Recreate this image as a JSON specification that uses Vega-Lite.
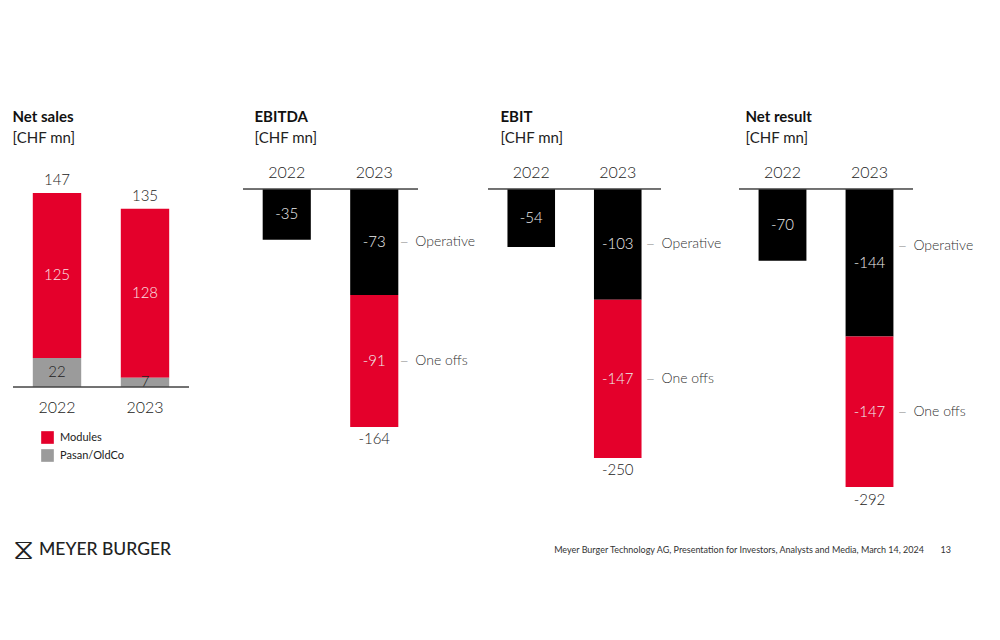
{
  "$schema": "https://vega.github.io/schema/vega-lite/v6.json",
  "background": "white",
  "padding": {"left": 12, "top": 110, "right": 10, "bottom": 10},
  "config": {
    "view": {"stroke": null},
    "font": "Lato",
    "text": {"font": "Lato", "fontWeight": 300},
    "title": {"font": "Lato", "fontSize": 15, "fontWeight": "bold", "color": "#111111", "subtitleFont": "Lato", "subtitleFontSize": 15, "subtitleFontWeight": 400, "subtitleColor": "#222222", "subtitlePadding": 6, "anchor": "start", "offset": 14}
  },
  "datasets": {
    "segments": [
      {"panel": "Net sales", "year": "2022", "segment": "Modules", "value": 125},
      {"panel": "Net sales", "year": "2022", "segment": "Pasan/OldCo", "value": 22},
      {"panel": "Net sales", "year": "2023", "segment": "Modules", "value": 128},
      {"panel": "Net sales", "year": "2023", "segment": "Pasan/OldCo", "value": 7},
      {"panel": "EBITDA", "year": "2022", "segment": "Operative", "value": -35},
      {"panel": "EBITDA", "year": "2023", "segment": "Operative", "value": -73},
      {"panel": "EBITDA", "year": "2023", "segment": "One offs", "value": -91},
      {"panel": "EBIT", "year": "2022", "segment": "Operative", "value": -54},
      {"panel": "EBIT", "year": "2023", "segment": "Operative", "value": -103},
      {"panel": "EBIT", "year": "2023", "segment": "One offs", "value": -147},
      {"panel": "Net result", "year": "2022", "segment": "Operative", "value": -70},
      {"panel": "Net result", "year": "2023", "segment": "Operative", "value": -144},
      {"panel": "Net result", "year": "2023", "segment": "One offs", "value": -147}
    ],
    "totals": [
      {"panel": "Net sales", "year": "2022", "total": 147},
      {"panel": "Net sales", "year": "2023", "total": 135},
      {"panel": "EBITDA", "year": "2022", "total": -35},
      {"panel": "EBITDA", "year": "2023", "total": -164},
      {"panel": "EBIT", "year": "2022", "total": -54},
      {"panel": "EBIT", "year": "2023", "total": -250},
      {"panel": "Net result", "year": "2022", "total": -70},
      {"panel": "Net result", "year": "2023", "total": -292}
    ],
    "footer": [
      {"side": "left", "kind": "brand", "text": "MEYER BURGER"},
      {"side": "right", "kind": "source", "text": "Meyer Burger Technology AG, Presentation for Investors, Analysts and Media, March 14, 2024"},
      {"side": "right", "kind": "page", "text": "13"}
    ]
  },
  "vconcat": [
    {
      "hconcat": [
        {
          "width": 176,
          "height": 260,
          "title": {"text": "Net sales", "subtitle": "[CHF mn]"},
          "layer": [
            {
              "data": {"name": "segments"},
              "transform": [{"filter": "datum.panel === 'Net sales'"}],
              "mark": {"type": "bar"},
              "encoding": {
                "x": {"field": "year", "type": "nominal", "scale": {"paddingInner": 0.45, "paddingOuter": 0.225}, "axis": null},
                "y": {"field": "value", "type": "quantitative", "stack": "zero", "scale": {"domain": [-25, 172], "nice": false, "zero": false}, "axis": null},
                "color": {"field": "segment", "type": "nominal", "scale": {"domain": ["Modules", "Pasan/OldCo"], "range": ["#E4002B", "#9B9B9B"]}, "legend": {"orient": "none", "legendX": 28, "legendY": 271, "title": null, "symbolType": "square", "symbolSize": 160, "symbolStrokeWidth": 0, "labelFont": "Lato", "labelFontSize": 11, "labelFontWeight": 400, "labelColor": "#222222", "rowPadding": 5, "labelOffset": 6}},
                "order": {"field": "segment", "sort": "descending"}
              }
            },
            {
              "data": {"name": "segments"},
              "transform": [{"filter": "datum.panel === 'Net sales'"}],
              "mark": {"type": "text", "fontSize": 15, "baseline": "middle"},
              "encoding": {
                "x": {"field": "year", "type": "nominal", "axis": null},
                "y": {"field": "value", "type": "quantitative", "stack": "zero", "bandPosition": 0.5, "axis": null},
                "detail": {"field": "segment"},
                "order": {"field": "segment", "sort": "descending"},
                "text": {"field": "value", "type": "nominal"},
                "color": {"condition": {"test": "datum.segment === 'Pasan/OldCo'", "value": "#222222"}, "value": "#fbe4e8"}
              }
            },
            {
              "data": {"name": "totals"},
              "transform": [{"filter": "datum.panel === 'Net sales'"}],
              "mark": {"type": "rule", "color": "#444444", "strokeWidth": 1},
              "encoding": {"y": {"datum": 0, "type": "quantitative", "axis": null}}
            },
            {
              "data": {"name": "totals"},
              "transform": [{"filter": "datum.panel === 'Net sales'"}],
              "mark": {"type": "text", "fontSize": 16, "baseline": "middle", "dy": 21, "color": "#222222"},
              "encoding": {
                "x": {"field": "year", "type": "nominal", "axis": null},
                "y": {"datum": 0, "type": "quantitative", "axis": null},
                "text": {"field": "year", "type": "nominal"}
              }
            },
            {
              "data": {"name": "totals"},
              "transform": [{"filter": "datum.panel === 'Net sales'"}],
              "mark": {"type": "text", "fontSize": 15, "baseline": "middle", "dy": -13, "color": "#222222"},
              "encoding": {
                "x": {"field": "year", "type": "nominal", "axis": null},
                "y": {"field": "total", "type": "quantitative", "axis": null},
                "text": {"field": "total", "type": "nominal"}
              }
            }
          ]
        },
        {
          "width": 54,
          "height": 10,
          "data": {"values": [{}]},
          "mark": {"type": "text", "text": ""},
          "encoding": {}
        },
        {
          "width": 175,
          "height": 300,
          "title": {"text": "EBITDA", "subtitle": "[CHF mn]", "dx": 12},
          "layer": [
            {
              "data": {"name": "segments"},
              "transform": [{"filter": "datum.panel === 'EBITDA'"}],
              "mark": {"type": "bar"},
              "encoding": {
                "x": {"field": "year", "type": "nominal", "scale": {"paddingInner": 0.45, "paddingOuter": 0.225}, "axis": null},
                "y": {"field": "value", "type": "quantitative", "stack": "zero", "scale": {"domain": [-186.75, 20], "nice": false, "zero": false}, "axis": null},
                "color": {"field": "segment", "type": "nominal", "scale": {"domain": ["Operative", "One offs"], "range": ["#000000", "#E4002B"]}, "legend": null},
                "order": {"field": "segment", "sort": "descending"}
              }
            },
            {
              "data": {"name": "segments"},
              "transform": [{"filter": "datum.panel === 'EBITDA'"}],
              "mark": {"type": "text", "fontSize": 15, "baseline": "middle", "color": "#eeeeee"},
              "encoding": {
                "x": {"field": "year", "type": "nominal", "axis": null},
                "y": {"field": "value", "type": "quantitative", "stack": "zero", "bandPosition": 0.5, "axis": null},
                "detail": {"field": "segment"},
                "order": {"field": "segment", "sort": "descending"},
                "text": {"field": "value", "type": "nominal"}
              }
            },
            {
              "data": {"name": "segments"},
              "transform": [{"filter": "datum.panel === 'EBITDA' && datum.year === '2023'"}],
              "mark": {"type": "text", "text": "—", "align": "left", "baseline": "middle", "dx": 2, "fontSize": 10, "color": "#333333"},
              "encoding": {
                "x": {"field": "year", "type": "nominal", "bandPosition": 1, "axis": null},
                "y": {"field": "value", "type": "quantitative", "stack": "zero", "bandPosition": 0.5, "axis": null},
                "detail": {"field": "segment"},
                "order": {"field": "segment", "sort": "descending"}
              }
            },
            {
              "data": {"name": "segments"},
              "transform": [{"filter": "datum.panel === 'EBITDA' && datum.year === '2023'"}],
              "mark": {"type": "text", "align": "left", "baseline": "middle", "dx": 17, "fontSize": 14, "color": "#333333"},
              "encoding": {
                "x": {"field": "year", "type": "nominal", "bandPosition": 1, "axis": null},
                "y": {"field": "value", "type": "quantitative", "stack": "zero", "bandPosition": 0.5, "axis": null},
                "detail": {"field": "segment"},
                "order": {"field": "segment", "sort": "descending"},
                "text": {"field": "segment", "type": "nominal"}
              }
            },
            {
              "data": {"name": "totals"},
              "transform": [{"filter": "datum.panel === 'EBITDA'"}],
              "mark": {"type": "rule", "color": "#444444", "strokeWidth": 1},
              "encoding": {"y": {"datum": 0, "type": "quantitative", "axis": null}}
            },
            {
              "data": {"name": "totals"},
              "transform": [{"filter": "datum.panel === 'EBITDA'"}],
              "mark": {"type": "text", "fontSize": 16, "baseline": "middle", "dy": -16, "color": "#222222"},
              "encoding": {
                "x": {"field": "year", "type": "nominal", "axis": null},
                "y": {"datum": 0, "type": "quantitative", "axis": null},
                "text": {"field": "year", "type": "nominal"}
              }
            },
            {
              "data": {"name": "totals"},
              "transform": [{"filter": "datum.panel === 'EBITDA' && datum.year === '2023'"}],
              "mark": {"type": "text", "fontSize": 15, "baseline": "middle", "dy": 12, "color": "#222222"},
              "encoding": {
                "x": {"field": "year", "type": "nominal", "axis": null},
                "y": {"field": "total", "type": "quantitative", "axis": null},
                "text": {"field": "total", "type": "nominal"}
              }
            }
          ]
        },
        {
          "width": 70,
          "height": 10,
          "data": {"values": [{}]},
          "mark": {"type": "text", "text": ""},
          "encoding": {}
        },
        {
          "width": 173,
          "height": 320,
          "title": {"text": "EBIT", "subtitle": "[CHF mn]", "dx": 13},
          "layer": [
            {
              "data": {"name": "segments"},
              "transform": [{"filter": "datum.panel === 'EBIT'"}],
              "mark": {"type": "bar"},
              "encoding": {
                "x": {"field": "year", "type": "nominal", "scale": {"paddingInner": 0.45, "paddingOuter": 0.225}, "axis": null},
                "y": {"field": "value", "type": "quantitative", "stack": "zero", "scale": {"domain": [-270.45, 26.95], "nice": false, "zero": false}, "axis": null},
                "color": {"field": "segment", "type": "nominal", "scale": {"domain": ["Operative", "One offs"], "range": ["#000000", "#E4002B"]}, "legend": null},
                "order": {"field": "segment", "sort": "descending"}
              }
            },
            {
              "data": {"name": "segments"},
              "transform": [{"filter": "datum.panel === 'EBIT'"}],
              "mark": {"type": "text", "fontSize": 15, "baseline": "middle", "color": "#eeeeee"},
              "encoding": {
                "x": {"field": "year", "type": "nominal", "axis": null},
                "y": {"field": "value", "type": "quantitative", "stack": "zero", "bandPosition": 0.5, "axis": null},
                "detail": {"field": "segment"},
                "order": {"field": "segment", "sort": "descending"},
                "text": {"field": "value", "type": "nominal"}
              }
            },
            {
              "data": {"name": "segments"},
              "transform": [{"filter": "datum.panel === 'EBIT' && datum.year === '2023'"}],
              "mark": {"type": "text", "text": "—", "align": "left", "baseline": "middle", "dx": 5, "fontSize": 10, "color": "#333333"},
              "encoding": {
                "x": {"field": "year", "type": "nominal", "bandPosition": 1, "axis": null},
                "y": {"field": "value", "type": "quantitative", "stack": "zero", "bandPosition": 0.5, "axis": null},
                "detail": {"field": "segment"},
                "order": {"field": "segment", "sort": "descending"}
              }
            },
            {
              "data": {"name": "segments"},
              "transform": [{"filter": "datum.panel === 'EBIT' && datum.year === '2023'"}],
              "mark": {"type": "text", "align": "left", "baseline": "middle", "dx": 20, "fontSize": 14, "color": "#333333"},
              "encoding": {
                "x": {"field": "year", "type": "nominal", "bandPosition": 1, "axis": null},
                "y": {"field": "value", "type": "quantitative", "stack": "zero", "bandPosition": 0.5, "axis": null},
                "detail": {"field": "segment"},
                "order": {"field": "segment", "sort": "descending"},
                "text": {"field": "segment", "type": "nominal"}
              }
            },
            {
              "data": {"name": "totals"},
              "transform": [{"filter": "datum.panel === 'EBIT'"}],
              "mark": {"type": "rule", "color": "#444444", "strokeWidth": 1},
              "encoding": {"y": {"datum": 0, "type": "quantitative", "axis": null}}
            },
            {
              "data": {"name": "totals"},
              "transform": [{"filter": "datum.panel === 'EBIT'"}],
              "mark": {"type": "text", "fontSize": 16, "baseline": "middle", "dy": -16, "color": "#222222"},
              "encoding": {
                "x": {"field": "year", "type": "nominal", "axis": null},
                "y": {"datum": 0, "type": "quantitative", "axis": null},
                "text": {"field": "year", "type": "nominal"}
              }
            },
            {
              "data": {"name": "totals"},
              "transform": [{"filter": "datum.panel === 'EBIT' && datum.year === '2023'"}],
              "mark": {"type": "text", "fontSize": 15, "baseline": "middle", "dy": 12, "color": "#222222"},
              "encoding": {
                "x": {"field": "year", "type": "nominal", "axis": null},
                "y": {"field": "total", "type": "quantitative", "axis": null},
                "text": {"field": "total", "type": "nominal"}
              }
            }
          ]
        },
        {
          "width": 78,
          "height": 10,
          "data": {"values": [{}]},
          "mark": {"type": "text", "text": ""},
          "encoding": {}
        },
        {
          "width": 174,
          "height": 340,
          "title": {"text": "Net result", "subtitle": "[CHF mn]", "dx": 7},
          "layer": [
            {
              "data": {"name": "segments"},
              "transform": [{"filter": "datum.panel === 'Net result'"}],
              "mark": {"type": "bar"},
              "encoding": {
                "x": {"field": "year", "type": "nominal", "scale": {"paddingInner": 0.45, "paddingOuter": 0.225}, "axis": null},
                "y": {"field": "value", "type": "quantitative", "stack": "zero", "scale": {"domain": [-303.71, 28.32], "nice": false, "zero": false}, "axis": null},
                "color": {"field": "segment", "type": "nominal", "scale": {"domain": ["Operative", "One offs"], "range": ["#000000", "#E4002B"]}, "legend": null},
                "order": {"field": "segment", "sort": "descending"}
              }
            },
            {
              "data": {"name": "segments"},
              "transform": [{"filter": "datum.panel === 'Net result'"}],
              "mark": {"type": "text", "fontSize": 15, "baseline": "middle", "color": "#eeeeee"},
              "encoding": {
                "x": {"field": "year", "type": "nominal", "axis": null},
                "y": {"field": "value", "type": "quantitative", "stack": "zero", "bandPosition": 0.5, "axis": null},
                "detail": {"field": "segment"},
                "order": {"field": "segment", "sort": "descending"},
                "text": {"field": "value", "type": "nominal"}
              }
            },
            {
              "data": {"name": "segments"},
              "transform": [{"filter": "datum.panel === 'Net result' && datum.year === '2023' && datum.segment === 'Operative'"}],
              "mark": {"type": "text", "text": "—", "align": "left", "baseline": "middle", "dx": 5, "dy": -17, "fontSize": 10, "color": "#333333"},
              "encoding": {
                "x": {"field": "year", "type": "nominal", "bandPosition": 1, "axis": null},
                "y": {"field": "value", "type": "quantitative", "stack": "zero", "bandPosition": 0.5, "axis": null},
                "detail": {"field": "segment"},
                "order": {"field": "segment", "sort": "descending"}
              }
            },
            {
              "data": {"name": "segments"},
              "transform": [{"filter": "datum.panel === 'Net result' && datum.year === '2023' && datum.segment === 'Operative'"}],
              "mark": {"type": "text", "align": "left", "baseline": "middle", "dx": 20, "dy": -17, "fontSize": 14, "color": "#333333"},
              "encoding": {
                "x": {"field": "year", "type": "nominal", "bandPosition": 1, "axis": null},
                "y": {"field": "value", "type": "quantitative", "stack": "zero", "bandPosition": 0.5, "axis": null},
                "detail": {"field": "segment"},
                "order": {"field": "segment", "sort": "descending"},
                "text": {"field": "segment", "type": "nominal"}
              }
            },
            {
              "data": {"name": "segments"},
              "transform": [{"filter": "datum.panel === 'Net result' && datum.year === '2023'"}],
              "mark": {"type": "text", "text": "—", "align": "left", "baseline": "middle", "dx": 5, "fontSize": 10, "color": "#333333"},
              "encoding": {
                "x": {"field": "year", "type": "nominal", "bandPosition": 1, "axis": null},
                "y": {"field": "value", "type": "quantitative", "stack": "zero", "bandPosition": 0.5, "axis": null},
                "detail": {"field": "segment"},
                "order": {"field": "segment", "sort": "descending"},
                "opacity": {"condition": {"test": "datum.segment === 'Operative'", "value": 0}, "value": 1}
              }
            },
            {
              "data": {"name": "segments"},
              "transform": [{"filter": "datum.panel === 'Net result' && datum.year === '2023'"}],
              "mark": {"type": "text", "align": "left", "baseline": "middle", "dx": 20, "fontSize": 14, "color": "#333333"},
              "encoding": {
                "x": {"field": "year", "type": "nominal", "bandPosition": 1, "axis": null},
                "y": {"field": "value", "type": "quantitative", "stack": "zero", "bandPosition": 0.5, "axis": null},
                "detail": {"field": "segment"},
                "order": {"field": "segment", "sort": "descending"},
                "text": {"condition": {"test": "datum.segment === 'Operative'", "value": ""}, "field": "segment", "type": "nominal"}
              }
            },
            {
              "data": {"name": "totals"},
              "transform": [{"filter": "datum.panel === 'Net result'"}],
              "mark": {"type": "rule", "color": "#444444", "strokeWidth": 1},
              "encoding": {"y": {"datum": 0, "type": "quantitative", "axis": null}}
            },
            {
              "data": {"name": "totals"},
              "transform": [{"filter": "datum.panel === 'Net result'"}],
              "mark": {"type": "text", "fontSize": 16, "baseline": "middle", "dy": -16, "color": "#222222"},
              "encoding": {
                "x": {"field": "year", "type": "nominal", "axis": null},
                "y": {"datum": 0, "type": "quantitative", "axis": null},
                "text": {"field": "year", "type": "nominal"}
              }
            },
            {
              "data": {"name": "totals"},
              "transform": [{"filter": "datum.panel === 'Net result' && datum.year === '2023'"}],
              "mark": {"type": "text", "fontSize": 15, "baseline": "middle", "dy": 12, "color": "#222222"},
              "encoding": {
                "x": {"field": "year", "type": "nominal", "axis": null},
                "y": {"field": "total", "type": "quantitative", "axis": null},
                "text": {"field": "total", "type": "nominal"}
              }
            }
          ]
        }
      ],
      "spacing": 0,
      "bounds": "flush",
      "resolve": {"scale": {"x": "independent", "y": "independent", "color": "independent"}, "legend": {"color": "independent"}}
    },
    {
      "width": 938,
      "height": 20,
      "data": {"name": "footer"},
      "layer": [
        {
          "transform": [{"filter": "datum.kind === 'brand'"}],
          "mark": {"type": "text", "text": "⧖", "align": "left", "baseline": "middle", "fontSize": 30, "fontWeight": 400, "font": "DejaVu Sans", "color": "#222222"},
          "encoding": {
            "x": {"field": "side", "type": "nominal", "bandPosition": 0, "scale": {"type": "band", "domain": ["left", "right"], "paddingInner": 0, "paddingOuter": 0}, "axis": null}
          }
        },
        {
          "transform": [{"filter": "datum.kind === 'brand'"}],
          "mark": {"type": "text", "align": "left", "baseline": "middle", "dx": 26, "fontSize": 17.5, "fontWeight": 500, "color": "#222222"},
          "encoding": {
            "x": {"field": "side", "type": "nominal", "bandPosition": 0, "axis": null},
            "text": {"field": "text", "type": "nominal"}
          }
        },
        {
          "transform": [{"filter": "datum.kind === 'source'"}],
          "mark": {"type": "text", "align": "right", "baseline": "middle", "dx": -27, "fontSize": 9, "fontWeight": 400, "color": "#333333"},
          "encoding": {
            "x": {"field": "side", "type": "nominal", "bandPosition": 1, "axis": null},
            "text": {"field": "text", "type": "nominal"}
          }
        },
        {
          "transform": [{"filter": "datum.kind === 'page'"}],
          "mark": {"type": "text", "align": "right", "baseline": "middle", "fontSize": 9, "fontWeight": 400, "color": "#333333"},
          "encoding": {
            "x": {"field": "side", "type": "nominal", "bandPosition": 1, "axis": null},
            "text": {"field": "text", "type": "nominal"}
          }
        }
      ]
    }
  ],
  "spacing": 26,
  "resolve": {"scale": {"x": "independent", "y": "independent", "color": "independent"}, "legend": {"color": "independent"}}
}
